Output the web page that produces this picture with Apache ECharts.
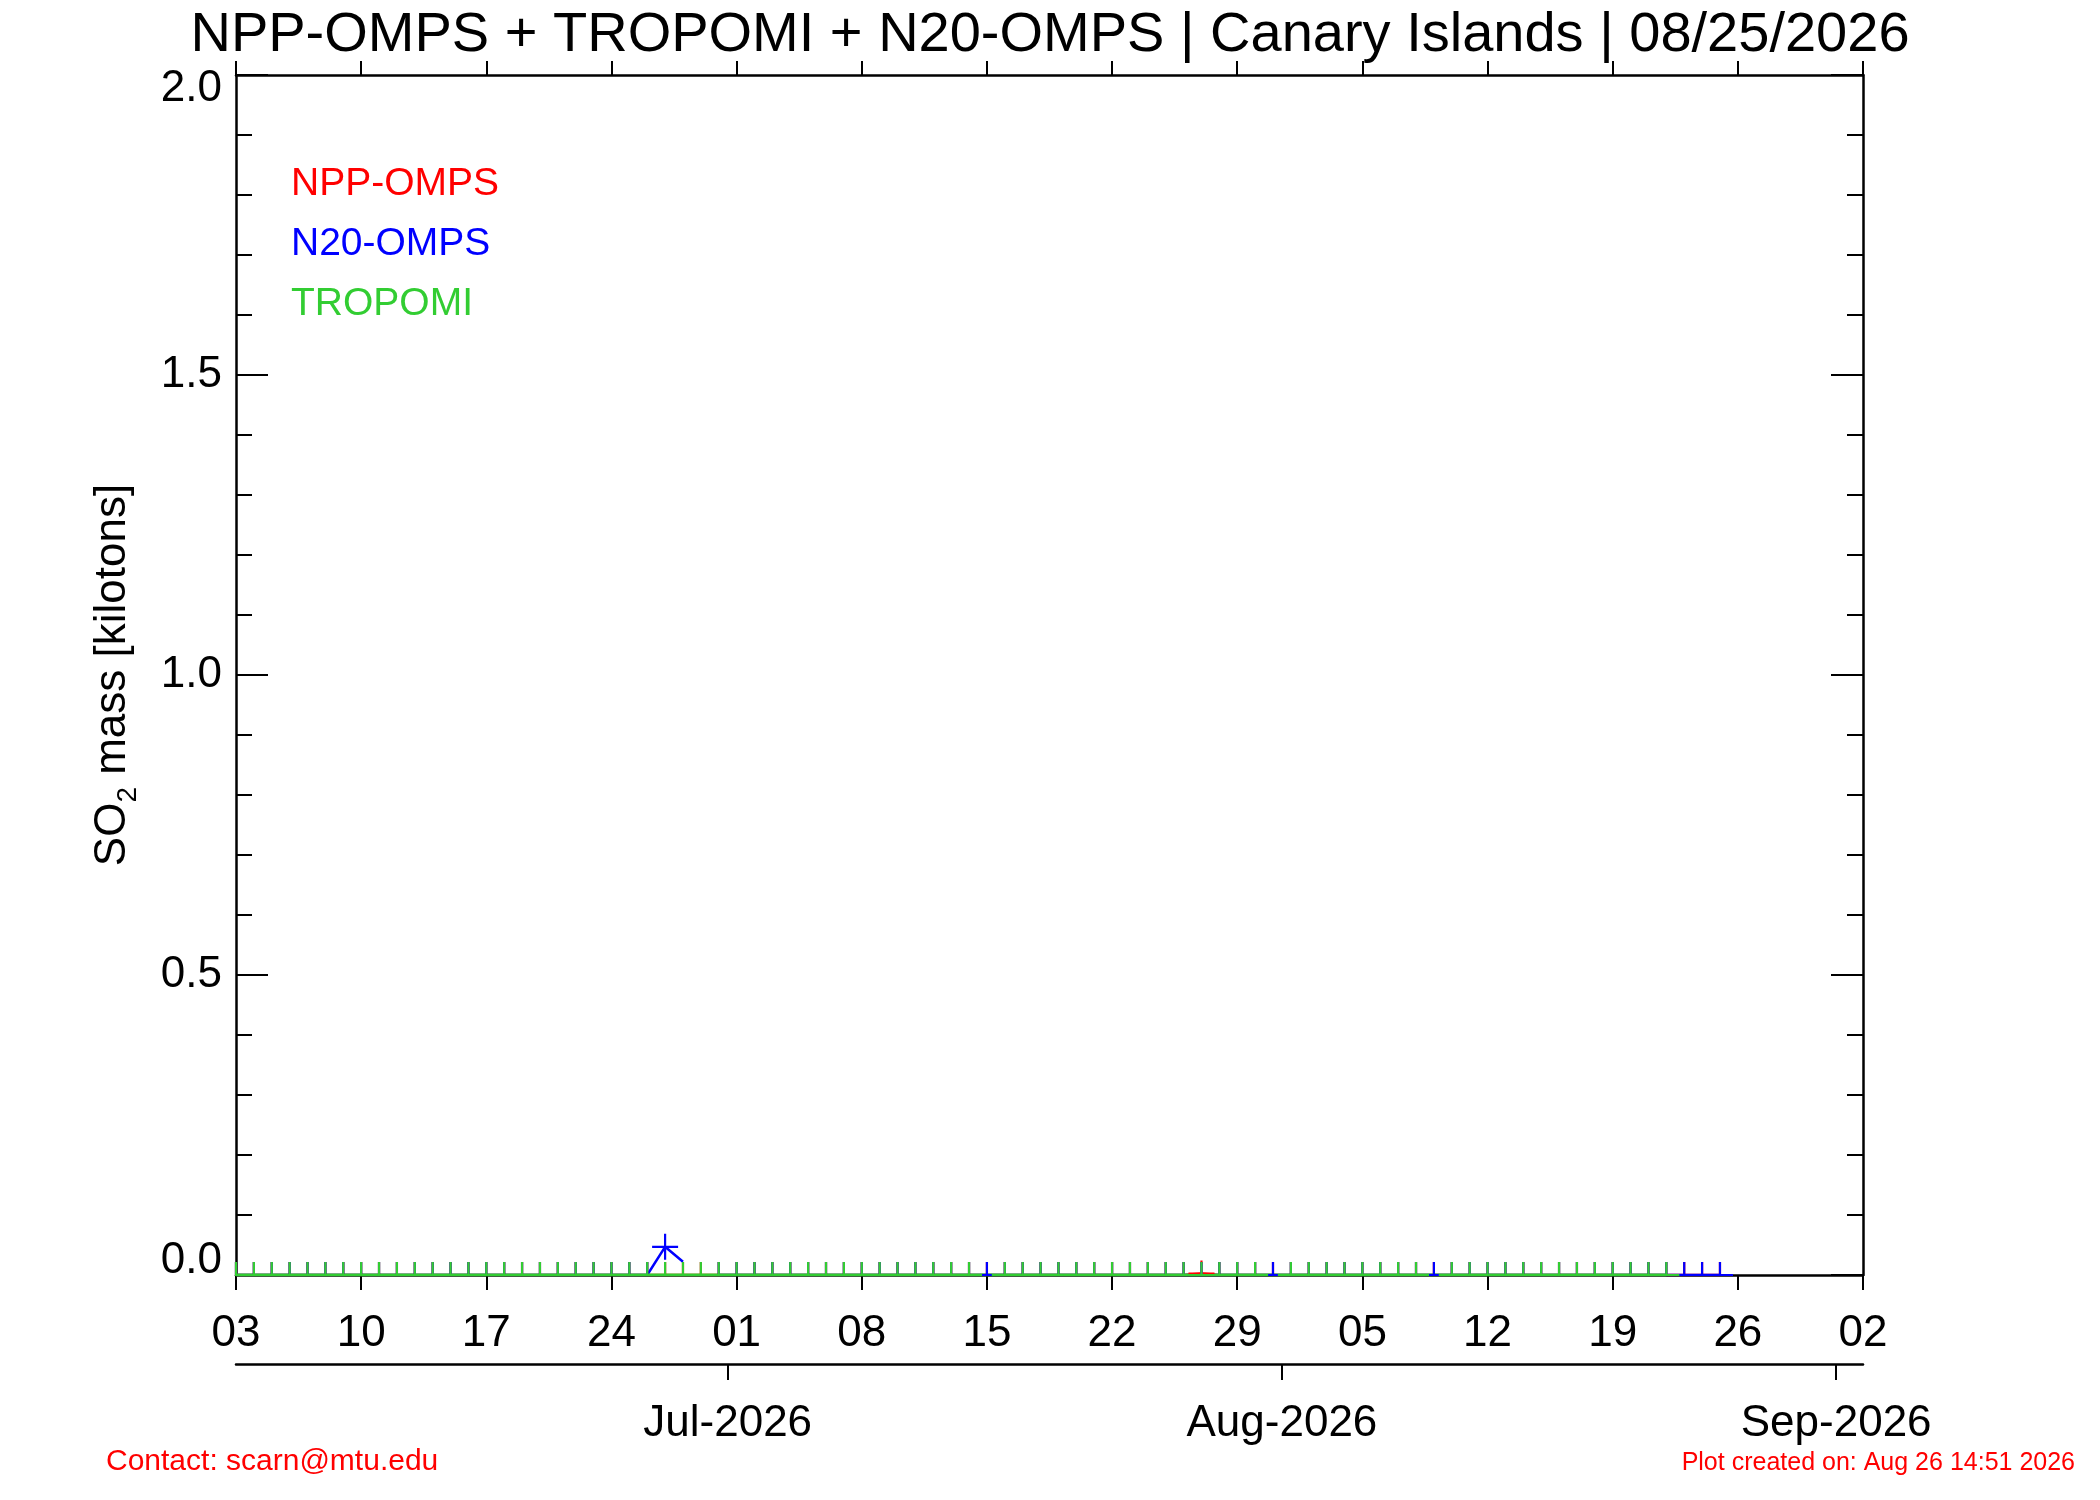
<!DOCTYPE html>
<html>
<head>
<meta charset="utf-8">
<script src="https://cdn.jsdelivr.net/npm/echarts@6/dist/echarts.min.js"></script>
<style>
html,body{margin:0;padding:0;background:#ffffff;}
#chart{width:2100px;height:1500px;}
</style>
</head>
<body>
<div id="chart"></div>
<script>
// ---------------- data ----------------
const titleText = 'NPP-OMPS + TROPOMI + N20-OMPS | Canary Islands | 08/25/2026';
const firstDay = '2026-06-03';   // x axis start
const lastDay = '2026-09-02';    // x axis end
const weekTickStep = 7;          // days between day-of-month ticks
const monthStarts = ['2026-07-01', '2026-08-01', '2026-09-01'];
const monthLabels = ['Jul-2026', 'Aug-2026', 'Sep-2026'];
const yMin = 0, yMax = 2.0, yStep = 0.5;
const seriesNames = ['NPP-OMPS', 'N20-OMPS', 'TROPOMI'];

// Daily SO2 mass [kt], first value = 2026-06-03, one row per week; null = no retrieval
const nppMass = [
  0,0,0,0,0,0,0,
  0,0,0,0,0,0,0,
  0,0,0,0,0,0,0,
  0,0,0,0,0,0,0,
  0,0,0,0,0,0,0,
  0,0,0,0,0,0,0,
  0,0,0,0,0,0,0,
  0,0,0,0,0,0.0025,0,
  0,0,0,0,0,0,0,
  0,0,0,0,0,0,0,
  0,0,0,0,0,0,0,
  0,0,0,0,0,0,0
];
const n20Mass = [
  0,0,0,0,0,0,0,
  0,0,0,0,0,0,0,
  0,0,0,0,0,0,0,
  0,0,0,0.047,0.022,null,0,
  0,0,0,0,0,0,0,
  0,0,0,0,0,0,0,
  0,0,0,0,0,0,0,
  0,0,0,0,0,0,0,
  0,0,0,0,0,0,0,
  0,0,0,0,0,0,0,
  0,0,0,0,0,0,0,
  0,0,0,0,0,0,0
];
const tropomiMass = [
  0,0,0,0,0,0,0,
  0,0,0,0,0,0,0,
  0,0,0,0,0,0,0,
  0,0,0,0,0,0,0,
  0,0,0,0,0,0,0,
  0,0,0,0,0,0,0,
  null,0,0,0,0,0,0,
  0,0,0,0,0,0,0,
  0,0,null,0,0,0,0,
  0,0,0,0,null,0,0,
  0,0,0,0,0,0,0,
  0,0,0,0
];
const n20Unmarked = ['2026-06-28'];
const contactText = 'Contact: scarn@mtu.edu';
const createdText = 'Plot created on: Aug 26 14:51 2026';

// ---------------- helpers ----------------
const DAY = 86400000;
function utc(s) { const p = s.split('-').map(Number); return Date.UTC(p[0], p[1] - 1, p[2]); }
const base = utc(firstDay);
function dayIndex(s) { return Math.round((utc(s) - base) / DAY); }
const xMax = dayIndex(lastDay);
const MONTH_TICK_SHIFT = -0.5; // month ticks sit half a day before the 1st, as in the original
const monthTicks = monthStarts.map(function (s) { return dayIndex(s) + MONTH_TICK_SHIFT; });

const COLORS = ['#ff0000', '#0000ff', '#32cd32'];
const FONT = '"Liberation Sans", Arial, Helvetica, sans-serif';
const ARM = 13, HALF = 1.1;

const axisLine = { show: true, onZero: false, lineStyle: { color: '#000', width: 2.5 } };
const noSplit = { show: false };

const chart = echarts.init(document.getElementById('chart'), null, { renderer: 'canvas' });
chart.setOption({
  backgroundColor: '#ffffff',
  animation: false,
  title: {
    text: titleText, left: 'center', top: 8, padding: 0,
    textStyle: { fontSize: 56, fontWeight: 'normal', fontFamily: FONT, color: '#000' }
  },
  legend: {
    data: seriesNames.map(function (n, i) { return { name: n, textStyle: { color: COLORS[i] } }; }),
    orient: 'vertical', left: 286, top: 165, padding: 0,
    icon: 'none', itemWidth: 0, itemHeight: 10, itemGap: 21, selectedMode: false,
    textStyle: { fontSize: 39, fontFamily: FONT, lineHeight: 39 }
  },
  grid: { left: 236, right: 237, top: 75, bottom: 225, containLabel: false, outerBoundsMode: 'none' },
  xAxis: [
    {
      type: 'value', position: 'bottom', min: 0, max: xMax, interval: weekTickStep,
      axisLine: axisLine,
      axisTick: { show: true, inside: false, length: 15, lineStyle: { color: '#000', width: 2 } },
      axisLabel: {
        show: true, margin: 37, fontSize: 44, fontFamily: FONT, color: '#000',
        showMinLabel: true, showMaxLabel: true, hideOverlap: false,
        formatter: function (v) { const d = new Date(base + v * DAY); return String(d.getUTCDate()).padStart(2, '0'); }
      },
      splitLine: noSplit
    },
    {
      type: 'value', position: 'top', min: 0, max: xMax, interval: weekTickStep,
      axisLine: axisLine,
      axisTick: { show: true, inside: false, length: 14, lineStyle: { color: '#000', width: 2 } },
      axisLabel: { show: false },
      splitLine: noSplit
    },
    {
      type: 'value', position: 'bottom', offset: 89, min: 0, max: xMax, interval: weekTickStep,
      axisLine: axisLine,
      axisTick: { show: true, inside: false, length: 16, customValues: monthTicks, lineStyle: { color: '#000', width: 2 } },
      axisLabel: {
        show: true, margin: 38, fontSize: 44, fontFamily: FONT, color: '#000', customValues: monthTicks, hideOverlap: false,
        formatter: function (v) {
          let k = -1;
          monthTicks.forEach(function (t, i) { if (Math.abs(t - v) < 0.01) k = i; });
          return k >= 0 ? monthLabels[k] : '';
        }
      },
      splitLine: noSplit
    }
  ],
  yAxis: [
    {
      type: 'value', position: 'left', min: yMin, max: yMax, interval: yStep,
      name: 'SO{sub|2} mass [kilotons]', nameLocation: 'middle', nameRotate: 90, nameGap: 94, nameMoveOverlap: false,
      nameTextStyle: {
        fontSize: 44, fontFamily: FONT, color: '#000',
        rich: { sub: { fontSize: 28, fontFamily: FONT, color: '#000', verticalAlign: 'bottom', padding: [30, 0, 0, 0] } }
      },
      axisLine: axisLine,
      axisTick: { show: true, inside: true, length: 32, lineStyle: { color: '#000', width: 2 } },
      minorTick: { show: true, splitNumber: 5, length: 16, lineStyle: { color: '#000', width: 2 } },
      axisLabel: {
        show: true, margin: 14, fontSize: 44, fontFamily: FONT, color: '#000',
        showMinLabel: true, showMaxLabel: true,
        formatter: function (v) {
          const s = v.toFixed(1);
          if (v === yMin) return '{lo|' + s + '}';
          if (v === yMax) return '{hi|' + s + '}';
          return '{n|' + s + '}';
        },
        rich: {
          n: { fontSize: 44, fontFamily: FONT, color: '#000' },
          lo: { fontSize: 44, fontFamily: FONT, color: '#000', padding: [0, 0, 28, 0] },
          hi: { fontSize: 44, fontFamily: FONT, color: '#000', padding: [28, 0, 0, 0] }
        }
      },
      splitLine: noSplit, minorSplitLine: noSplit
    },
    {
      type: 'value', position: 'right', min: yMin, max: yMax, interval: yStep,
      axisLine: axisLine,
      axisTick: { show: true, inside: true, length: 32, lineStyle: { color: '#000', width: 2 } },
      minorTick: { show: true, splitNumber: 5, length: 16, lineStyle: { color: '#000', width: 2 } },
      axisLabel: { show: false },
      splitLine: noSplit, minorSplitLine: noSplit
    }
  ],
  series: seriesNames.map(function (n) { return { type: 'line', name: n, data: [] }; }),
  graphic: [
    { type: 'text', x: 106, y: 1462, silent: true,
      style: { text: contactText, fill: '#ff0000', font: '30px ' + FONT, align: 'left', verticalAlign: 'middle', textAlign: 'left', textVerticalAlign: 'middle' } },
    { type: 'text', x: 2075, y: 1463, silent: true,
      style: { text: createdText, fill: '#ff0000', font: '25px ' + FONT, align: 'right', verticalAlign: 'middle', textAlign: 'right', textVerticalAlign: 'middle' } }
  ]
});

// Plus markers clipped to the plot frame (as the original plotting package does)
const c0 = chart.convertToPixel({ gridIndex: 0 }, [0, yMin]);
const c1 = chart.convertToPixel({ gridIndex: 0 }, [xMax, yMax]);
const frame = { l: c0[0], b: c0[1], r: c1[0], t: c1[1] };

function clippedPlus(i, v) {
  const p = chart.convertToPixel({ gridIndex: 0 }, [i, v]);
  const up = Math.max(HALF, Math.min(ARM, p[1] - frame.t));
  const dn = Math.max(HALF, Math.min(ARM, frame.b - p[1]));
  const lf = Math.max(HALF, Math.min(ARM, p[0] - frame.l));
  const rt = Math.max(HALF, Math.min(ARM, frame.r - p[0]));
  const h = HALF;
  const path = 'path://M' + (-h) + ',' + (-up) + 'L' + h + ',' + (-up) + 'L' + h + ',' + (-h) +
    'L' + rt + ',' + (-h) + 'L' + rt + ',' + h + 'L' + h + ',' + h + 'L' + h + ',' + dn +
    'L' + (-h) + ',' + dn + 'L' + (-h) + ',' + h + 'L' + (-lf) + ',' + h + 'L' + (-lf) + ',' + (-h) +
    'L' + (-h) + ',' + (-h) + 'Z';
  return { symbol: path, symbolSize: [lf + rt, up + dn], symbolOffset: [(rt - lf) / 2, (dn - up) / 2] };
}

function buildData(arr, unmarked) {
  const skip = (unmarked || []).map(dayIndex);
  return arr.map(function (v, i) {
    if (v === null) return { value: [i, '-'] };
    if (skip.indexOf(i) >= 0) return { value: [i, v], symbol: 'none' };
    const s = clippedPlus(i, v);
    return { value: [i, v], symbol: s.symbol, symbolSize: s.symbolSize, symbolOffset: s.symbolOffset };
  });
}

function makeSeries(name, arr, color, width, unmarked, connect) {
  return {
    type: 'line', name: name, data: buildData(arr, unmarked),
    xAxisIndex: 0, yAxisIndex: 0,
    showSymbol: true, clip: true, animation: false, silent: true, connectNulls: !!connect,
    lineStyle: { color: color, width: width },
    itemStyle: { color: color, borderWidth: 0 },
    emphasis: { disabled: true }
  };
}

chart.setOption({
  series: [
    makeSeries(seriesNames[0], nppMass, COLORS[0], 2.5, null, false),
    makeSeries(seriesNames[1], n20Mass, COLORS[1], 2.5, n20Unmarked, false),
    makeSeries(seriesNames[2], tropomiMass, COLORS[2], 3, null, true)
  ]
});
</script>
</body>
</html>
